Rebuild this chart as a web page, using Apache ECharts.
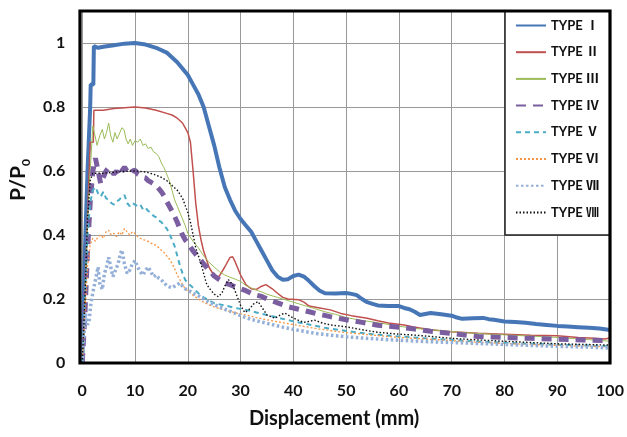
<!DOCTYPE html>
<html>
<head>
<meta charset="utf-8">
<script src="https://cdn.jsdelivr.net/npm/echarts@6/dist/echarts.min.js"></script>
<style>html,body{margin:0;padding:0;background:#fff}#c{width:627px;height:437px}</style>
</head>
<body>
<div id="c"></div>
<script>
// ---- data (displacement mm, P/P0) ----
const seriesNames = ['TYPE Ⅰ','TYPE Ⅱ','TYPE Ⅲ','TYPE Ⅳ','TYPE Ⅴ','TYPE Ⅵ','TYPE Ⅶ','TYPE Ⅷ'];
const xTicks = [0,10,20,30,40,50,60,70,80,90,100];
const yTicks = [0,0.2,0.4,0.6,0.8,1];

const typeI = [[0,0],[0.5,0.35],[1,0.6],[1.5,0.8],[1.6,0.87],[2.1,0.87],[2.2,0.99],[3,0.985],[4,0.988],[6,0.993],[8,0.998],[10,1.0],[12,0.995],[14,0.985],[16,0.97],[18,0.94],[20,0.9],[21,0.87],[22,0.84],[23,0.8],[24,0.74],[25,0.68],[26,0.61],[27,0.55],[28,0.51],[29,0.475],[30,0.45],[31,0.43],[32,0.41],[33,0.38],[34,0.35],[35,0.32],[36,0.29],[37,0.27],[38,0.26],[39,0.262],[40,0.272],[41,0.276],[42,0.27],[43,0.256],[44,0.24],[45,0.226],[46,0.218],[48,0.217],[50,0.219],[51,0.216],[52,0.212],[53,0.2],[54,0.19],[55,0.185],[56,0.18],[58,0.178],[60,0.178],[61,0.172],[62,0.168],[63,0.16],[64,0.15],[65,0.153],[66,0.156],[68,0.152],[70,0.148],[71,0.142],[72,0.138],[74,0.14],[76,0.141],[77,0.137],[78,0.135],[80,0.13],[82,0.128],[84,0.126],[86,0.122],[88,0.119],[90,0.116],[92,0.114],[94,0.112],[96,0.11],[98,0.108],[100,0.103]];

const typeII = [[0,0],[0.5,0.2],[1,0.45],[1.5,0.69],[2.1,0.69],[2.2,0.79],[4,0.79],[6,0.795],[8,0.798],[10,0.8],[12,0.797],[14,0.79],[16,0.78],[17,0.775],[18,0.765],[19,0.75],[20,0.72],[20.5,0.69],[21,0.6],[21.5,0.5],[22,0.43],[22.5,0.385],[23,0.35],[24,0.3],[25,0.272],[25.5,0.268],[26,0.272],[27,0.3],[28,0.33],[28.5,0.332],[29,0.315],[30,0.275],[31,0.245],[32,0.232],[33,0.23],[34,0.24],[34.8,0.245],[36,0.232],[37,0.218],[38,0.205],[39,0.2],[41,0.198],[42,0.19],[43,0.178],[45,0.172],[47,0.166],[49,0.155],[51,0.148],[54,0.14],[56,0.132],[58,0.125],[61,0.119],[63,0.112],[66,0.104],[70,0.098],[75,0.093],[80,0.09],[85,0.087],[90,0.085],[94,0.08],[97,0.077],[99,0.075],[100,0.078]];

const typeIII = [[0,0],[0.5,0.2],[1,0.45],[1.5,0.6],[2,0.74],[2.3,0.72],[2.8,0.68],[3.3,0.71],[3.8,0.73],[4.2,0.7],[4.6,0.72],[5,0.75],[5.4,0.71],[5.8,0.69],[6.2,0.72],[6.6,0.7],[7,0.715],[7.5,0.735],[7.9,0.73],[8.3,0.7],[8.7,0.685],[9.1,0.7],[9.5,0.68],[10,0.695],[10.5,0.69],[11,0.7],[11.5,0.68],[12,0.685],[12.5,0.67],[13,0.675],[13.5,0.66],[14,0.655],[14.5,0.645],[15,0.625],[15.5,0.61],[16,0.59],[16.5,0.57],[17,0.54],[17.5,0.51],[18,0.49],[18.5,0.47],[19,0.45],[19.5,0.43],[20,0.405],[21,0.38],[22,0.36],[23,0.335],[24,0.315],[25,0.3],[26,0.285],[27,0.275],[28,0.268],[29,0.262],[30,0.255],[31,0.242],[32,0.235],[33,0.228],[34,0.222],[35,0.215],[36,0.21],[37,0.205],[38,0.2],[40,0.19],[42,0.18],[44,0.17],[46,0.16],[48,0.152],[50,0.142],[53,0.133],[56,0.126],[60,0.115],[63,0.108],[66,0.104],[70,0.098],[75,0.092],[80,0.088],[85,0.084],[90,0.08],[95,0.074],[100,0.068]];

const typeIV = [[0,0],[0.5,0.15],[1,0.35],[1.5,0.5],[2,0.6],[2.5,0.64],[3,0.6],[3.5,0.56],[4,0.58],[4.5,0.6],[5,0.61],[5.5,0.6],[6,0.59],[6.5,0.6],[7,0.585],[7.5,0.6],[8,0.612],[8.5,0.6],[9,0.59],[9.5,0.6],[10,0.603],[10.5,0.59],[11,0.585],[11.5,0.58],[12,0.578],[12.5,0.57],[13,0.565],[13.5,0.56],[14,0.555],[14.5,0.545],[15,0.535],[15.5,0.522],[16,0.505],[16.5,0.49],[17,0.475],[17.5,0.458],[18,0.44],[18.5,0.42],[19,0.4],[19.5,0.385],[20,0.375],[21,0.35],[22,0.33],[23,0.31],[24,0.29],[25,0.272],[26,0.26],[27,0.25],[28,0.245],[29,0.238],[30,0.232],[31,0.226],[32,0.218],[33,0.212],[34,0.208],[35,0.2],[36,0.194],[37,0.188],[38,0.182],[39,0.176],[41,0.168],[43,0.16],[45,0.152],[47,0.145],[50,0.135],[53,0.127],[56,0.118],[60,0.112],[63,0.106],[66,0.099],[70,0.092],[75,0.083],[80,0.08],[85,0.077],[90,0.074],[95,0.072],[100,0.07]];

const typeV = [[0,0],[0.5,0.2],[1,0.4],[1.5,0.5],[2,0.54],[2.5,0.55],[3,0.53],[3.5,0.52],[4,0.535],[4.5,0.515],[5,0.51],[5.5,0.5],[6,0.495],[6.5,0.505],[7,0.51],[7.5,0.52],[8,0.525],[8.5,0.5],[9,0.49],[9.5,0.5],[10,0.495],[10.5,0.49],[11,0.495],[11.5,0.48],[12,0.485],[12.5,0.475],[13,0.47],[13.5,0.46],[14,0.455],[14.5,0.445],[15,0.44],[15.5,0.43],[16,0.42],[16.5,0.405],[17,0.385],[17.5,0.365],[18,0.335],[18.5,0.305],[19,0.28],[19.5,0.26],[20,0.25],[21,0.235],[22,0.218],[23,0.205],[24,0.196],[25,0.187],[27,0.18],[29,0.172],[31,0.166],[33,0.158],[35,0.15],[37,0.142],[40,0.13],[43,0.12],[46,0.11],[50,0.1],[55,0.09],[60,0.083],[65,0.077],[70,0.072],[75,0.067],[80,0.063],[85,0.06],[90,0.057],[95,0.055],[100,0.052]];

const typeVI = [[0,0],[0.5,0.15],[1,0.3],[1.5,0.37],[2,0.39],[2.5,0.38],[3,0.395],[3.5,0.4],[4,0.39],[4.5,0.41],[5,0.415],[5.5,0.4],[6,0.405],[6.5,0.395],[7,0.41],[7.5,0.4],[8,0.42],[8.5,0.41],[9,0.4],[9.5,0.41],[10,0.405],[10.5,0.395],[11,0.39],[11.5,0.385],[12,0.384],[12.5,0.38],[13,0.375],[13.5,0.37],[14,0.368],[14.5,0.36],[15,0.352],[15.5,0.345],[16,0.335],[16.5,0.325],[17,0.312],[17.5,0.295],[18,0.275],[18.5,0.26],[19,0.245],[19.5,0.232],[20,0.225],[21,0.212],[22,0.2],[23,0.19],[24,0.182],[25,0.175],[27,0.165],[29,0.157],[31,0.15],[33,0.142],[35,0.135],[38,0.126],[41,0.117],[45,0.106],[50,0.095],[55,0.087],[60,0.08],[65,0.075],[70,0.07],[75,0.065],[80,0.061],[85,0.058],[90,0.055],[95,0.053],[100,0.05]];

const typeVII = [[0,0],[0.3,0.08],[0.6,0.155],[1,0.12],[1.3,0.13],[1.6,0.18],[2,0.22],[2.5,0.26],[3,0.3],[3.3,0.25],[3.8,0.23],[4.2,0.28],[4.6,0.3],[5,0.33],[5.4,0.3],[5.8,0.27],[6.3,0.29],[6.8,0.31],[7.2,0.34],[7.5,0.353],[8,0.31],[8.5,0.28],[9,0.29],[9.5,0.31],[10,0.32],[10.5,0.3],[11,0.285],[11.5,0.275],[12,0.29],[12.5,0.3],[13,0.285],[13.5,0.27],[14,0.275],[14.5,0.265],[15,0.26],[15.5,0.25],[16,0.242],[16.5,0.238],[17,0.235],[17.5,0.24],[18,0.245],[18.5,0.25],[19,0.24],[19.5,0.232],[20,0.228],[21,0.218],[22,0.21],[23,0.2],[24,0.19],[25,0.182],[26,0.175],[27,0.168],[28,0.162],[29,0.155],[30,0.148],[31,0.142],[32,0.136],[34,0.128],[36,0.12],[38,0.112],[40,0.105],[42,0.099],[44,0.093],[47,0.087],[50,0.082],[53,0.078],[56,0.075],[60,0.071],[65,0.067],[70,0.064],[75,0.061],[80,0.058],[85,0.055],[90,0.052],[95,0.05],[100,0.047]];

const typeVIII = [[0,0],[0.5,0.2],[1,0.45],[1.5,0.57],[2,0.593],[4,0.593],[7,0.598],[10,0.6],[12,0.597],[13.5,0.59],[15,0.58],[16,0.57],[17,0.555],[18,0.54],[19,0.515],[20,0.47],[20.5,0.44],[21,0.4],[21.5,0.36],[22,0.335],[22.5,0.31],[23,0.28],[23.5,0.25],[24,0.235],[25,0.215],[25.8,0.207],[26.5,0.22],[27,0.24],[27.7,0.26],[28.5,0.245],[29.3,0.21],[30,0.18],[30.8,0.158],[31.5,0.165],[32.5,0.185],[33.3,0.192],[34,0.175],[35,0.15],[36.5,0.14],[37.5,0.15],[38.4,0.156],[39.5,0.145],[41,0.133],[42,0.127],[43,0.13],[44,0.134],[45.5,0.125],[47,0.119],[50,0.113],[53,0.104],[56,0.096],[60,0.09],[63,0.087],[66,0.083],[70,0.077],[75,0.072],[80,0.068],[85,0.064],[90,0.06],[95,0.058],[100,0.056]];

const allData = [typeI,typeII,typeIII,typeIV,typeV,typeVI,typeVII,typeVIII];

// ---- styles ----
const styles = [
  {color:'#4676B6', width:4, type:'solid'},
  {color:'#C0504D', width:1.5, type:'solid'},
  {color:'#9BBB59', width:1, type:'solid'},
  {color:'#7A5EA0', width:5, type:[10,7]},
  {color:'#4BACC6', width:2, type:[5,4]},
  {color:'#F79646', width:1.3, type:[2,2]},
  {color:'#95B0D8', width:3.5, type:[2.5,2.5]},
  {color:'#111111', width:1.4, type:[1.5,2]}
];

const G = {left:80, top:11, width:530, height:352};
const FONT = 'Lato, "Noto Sans CJK JP", sans-serif';

const chart = echarts.init(document.getElementById('c'), null, {renderer:'canvas'});
const fmtY = v => v > 1.05 ? '' : String(+v.toFixed(1));

chart.setOption({
  animation:false,
  backgroundColor:'#fff',
  grid:{left:G.left, top:G.top, width:G.width, height:G.height, show:false},
  xAxis:{
    type:'value', min:xTicks[0], max:xTicks[xTicks.length-1], interval:10,
    axisLine:{show:false}, axisTick:{show:false},
    splitLine:{show:true, lineStyle:{color:'#999', width:1}},
    axisLabel:{margin:20, fontFamily:FONT, fontWeight:'bold', fontSize:16, color:'#111'},
    name:'Displacement (mm)', nameLocation:'middle', nameGap:46,
    nameTextStyle:{fontFamily:FONT, fontWeight:'bold', fontSize:20, color:'#111', padding:[0,24,0,0]}
  },
  yAxis:{
    type:'value', min:0, max:1.1, interval:0.2,
    axisLine:{show:false}, axisTick:{show:false},
    splitLine:{show:true, lineStyle:{color:'#999', width:1}},
    axisLabel:{margin:17, fontFamily:FONT, fontWeight:'bold', fontSize:16, color:'#111', formatter:fmtY},
    name:'{a|P/P}{b|0}', nameLocation:'middle', nameGap:46,
    nameTextStyle:{padding:[0,0,0,14], rich:{
      a:{fontFamily:FONT, fontWeight:'bold', fontSize:21, color:'#111', lineHeight:24, verticalAlign:'bottom'},
      b:{fontFamily:FONT, fontWeight:'bold', fontSize:12, color:'#111', lineHeight:24, verticalAlign:'bottom', padding:[0,0,-3,0]}
    }}
  },
  legend:{
    orient:'vertical', left:505, top:11, padding:[8,5,8,10],
    itemWidth:30, itemHeight:14, itemGap:13.7, z:6,
    data:seriesNames,
    itemStyle:{color:'rgba(0,0,0,0)', borderColor:'rgba(0,0,0,0)', borderWidth:0},
    textStyle:{fontFamily:FONT, fontWeight:'bold', fontSize:13, color:'#111'}
  },
  graphic:[
    {type:'rect', z:4, shape:{x:505, y:G.top, width:G.left+G.width-505, height:224}, style:{fill:'#fff'}},
    {type:'polyline', z:5, shape:{points:[[505,G.top],[505,G.top+224],[G.left+G.width,G.top+224]]}, style:{stroke:'#222', lineWidth:1.5, fill:null}},
    {type:'rect', z:10, shape:{x:G.left, y:G.top, width:G.width, height:G.height}, style:{fill:null, stroke:'#000', lineWidth:3.2}}
  ],
  series: allData.map((d,i)=>({
    name:seriesNames[i], type:'line', data:d, symbol:'none', showSymbol:false,
    smooth:false, z:2+i*0.01,
    lineStyle:{color:styles[i].color, width:styles[i].width, type:styles[i].type},
    itemStyle:{color:styles[i].color}
  }))
});
</script>
</body>
</html>
